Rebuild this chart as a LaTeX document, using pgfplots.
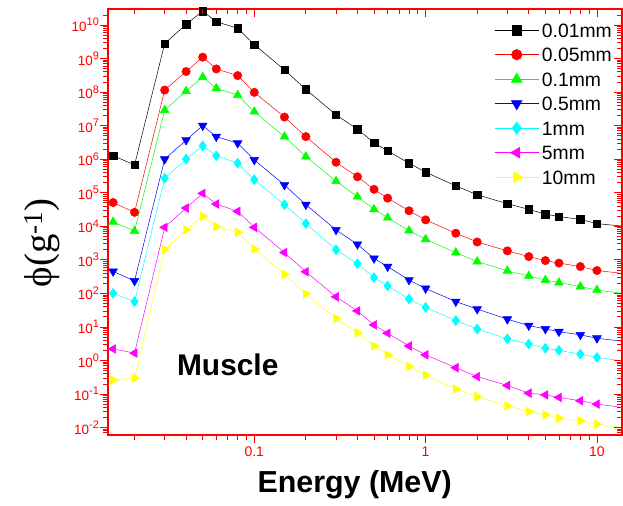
\documentclass[border=0pt]{standalone}
\usepackage{pgfplots}
\pgfplotsset{compat=1.18}
\usepackage{pgfplotstable}
\usepackage{fontspec}
\setmainfont{Liberation Sans}
\newfontfamily\seriffont{Liberation Serif}
\definecolor{cgreen}{RGB}{0,255,0}
\definecolor{ccyan}{RGB}{0,255,255}
\definecolor{cmag}{RGB}{255,0,255}
\definecolor{cyel}{RGB}{255,255,0}
\definecolor{cblue}{RGB}{0,0,255}
\definecolor{cred}{RGB}{255,0,0}

\pgfplotstableread{
E      a       b       c       d       e       f       g
0.015  1.28e6  5.1e4   1.35e4  450     100     2.2     0.26
0.02   6.7e5   2.6e4   7.2e3   235     57      1.66    0.3
0.03   2.8e9   1.15e8  2.9e7   1e6     2.7e5   9.3e3   2e3
0.04   1.05e10 4.1e8   1.07e8  3.7e6   1e6     3.5e4   7.8e3
0.05   2.6e10  1.1e9   2.8e8   1e7     2.5e6   9.6e4   2e4
0.06   1.25e10 4.9e8   1.3e8   4.7e6   1.26e6  4.6e4   9.8e3
0.08   8e9     3.1e8   8.1e7   3e6     7.6e5   2.8e4   6.6e3
0.1    2.6e9   9.8e7   2.6e7   9.5e5   2.45e5  9.3e3   2.1e3
0.15   4.6e8   1.8e7   4.7e6   1.7e5   4.4e4   1.65e3  370
0.2    1.2e8   4.7e6   1.2e6   4.4e4   1.2e4   440     96
0.3    2.1e7   8.1e5   2.2e5   7.8e3   2e3     79      18
0.4    7.8e6   3e5     7.6e4   2.9e3   760     30      6.7
0.5    3.1e6   1.26e5  3.2e4   1.1e3   295     11.5    2.7
0.6    1.76e6  6.9e4   1.8e4   630     166     6.5     1.47
0.8    7.6e5   2.9e4   7.4e3   250     68      2.7     0.66
1      4.1e5   1.55e4  4.1e3   140     38      1.47    0.37
1.5    1.6e5   6.2e3   1.65e3  57      15.5    0.61    0.14
2      8.7e4   3.4e3   890     34      8.7     0.33    0.083
3      4.7e4   1.85e3  470     17      4.4     0.18    0.044
4      3.2e4   1.25e3  330     11      3.1     0.106   0.03
5      2.3e4   950     250     8.7     2.3     0.094   0.024
6      1.95e4  800     210     7.2     2.0     0.079   0.019
8      1.6e4   630     160     5.8     1.55    0.063   0.016
10     1.2e4   480     126     4.6     1.23    0.05    0.0126
15     9.8e3   380     95      3.6     0.93    0.038   0.0096
}\data

\newcommand{\tp}[1]{10\raisebox{0.42em}{\fontsize{11}{12}\selectfont #1}}
\newcommand{\legtxt}[1]{{\fontsize{19.4}{22}\selectfont #1}}
\pgfplotsset{
  myticks/.style={
    minor xtick={0.02,0.03,0.04,0.05,0.06,0.07,0.08,0.09,0.2,0.3,0.4,0.5,0.6,0.7,0.8,0.9,2,3,4,5,6,7,8,9},
    minor ytick={7e-3,8e-3,9e-3,2e-2,3e-2,4e-2,5e-2,6e-2,7e-2,8e-2,9e-2,0.2,0.3,0.4,0.5,0.6,0.7,0.8,0.9,2,3,4,5,6,7,8,9,20,30,40,50,60,70,80,90,200,300,400,500,600,700,800,900,2e3,3e3,4e3,5e3,6e3,7e3,8e3,9e3,2e4,3e4,4e4,5e4,6e4,7e4,8e4,9e4,2e5,3e5,4e5,5e5,6e5,7e5,8e5,9e5,2e6,3e6,4e6,5e6,6e6,7e6,8e6,9e6,2e7,3e7,4e7,5e7,6e7,7e7,8e7,9e7,2e8,3e8,4e8,5e8,6e8,7e8,8e8,9e8,2e9,3e9,4e9,5e9,6e9,7e9,8e9,9e9,2e10},
  }
}

\begin{document}
\begin{tikzpicture}
\begin{axis}[name=ax,
  scale only axis, width=514bp, height=426bp,
  xmode=log, ymode=log,
  xmin=0.014, xmax=14, ymin=6e-3, ymax=3e10,
  xtick={0.1,1,10},
  ytick={1e-2,1e-1,1,1e1,1e2,1e3,1e4,1e5,1e6,1e7,1e8,1e9,1e10},
  myticks,
  tick style={cred, line width=0.8pt},
  major tick length=8bp, minor tick length=5bp,
  axis line style={cred, line width=1.1pt},
  tick align=outside, xtick pos=left, ytick pos=left,
  xticklabels={0.1,1,10},
  yticklabels={\tp{-2},\tp{-1},\tp{0},\tp{1},\tp{2},\tp{3},\tp{4},\tp{5},\tp{6},\tp{7},\tp{8},\tp{9},\tp{10}},
  ticklabel style={text=cred, font=\fontsize{14}{16}\selectfont},
  yticklabel style={font=\fontsize{13.5}{16}\selectfont, inner xsep=1bp},
  xlabel={Energy (MeV)},
  xlabel style={font=\bfseries\fontsize{30.5}{34}\selectfont, at={(axis description cs:0.48,-0.117)}, anchor=center},
  ylabel={{\seriffont ϕ(g\textsuperscript{-1})}},
  ylabel style={font=\fontsize{39}{42}\selectfont, at={(axis description cs:-0.128,0.451)}, anchor=center},
  legend style={at={(axis description cs:1,1)}, anchor=north east, xshift=-7bp, yshift=-12bp,
    draw=none, fill=none, row sep=6.5bp, inner sep=0pt,
    nodes={inner xsep=3bp, inner ysep=2bp, text height=14bp, text depth=0bp}},
  legend cell align=left,
  legend image code/.code={\draw[mark repeat=2,mark phase=2,every mark/.append style={scale=1.25}] plot coordinates {(0bp,0bp)(22bp,0bp)(44bp,0bp)};},
  every axis plot/.append style={line width=0.5pt},
]
\addplot[black, mark=square*, mark size=3.7bp, mark options={solid,fill=black}] table[x=E,y=a]{\data};
\addlegendentry{\legtxt{0.01mm}}
\addplot[cred, mark=*, mark size=4.2bp, mark options={solid,fill=cred}] table[x=E,y=b]{\data};
\addlegendentry{\legtxt{0.05mm}}
\addplot[cgreen, mark=triangle*, mark size=5bp, mark options={solid,fill=cgreen}] table[x=E,y=c]{\data};
\addlegendentry{\legtxt{0.1mm}}
\addplot[cblue, mark=triangle*, mark size=5bp, mark options={solid,fill=cblue,rotate=180}] table[x=E,y=d]{\data};
\addlegendentry{\legtxt{0.5mm}}
\addplot[ccyan, mark=diamond*, mark size=5bp, mark options={solid,fill=ccyan}] table[x=E,y=e]{\data};
\addlegendentry{\legtxt{1mm}}
\addplot[cmag, mark=triangle*, mark size=5bp, mark options={solid,fill=cmag,rotate=90}] table[x=E,y=f]{\data};
\addlegendentry{\legtxt{5mm}}
\addplot[cyel, mark=triangle*, mark size=5bp, mark options={solid,fill=cyel,rotate=-90}] table[x=E,y=g]{\data};
\addlegendentry{\legtxt{10mm}}
\node[font=\bfseries\fontsize{30}{36}\selectfont] at (axis description cs:0.233,0.164) {Muscle};
\end{axis}
\begin{axis}[at={(ax.south west)}, anchor=south west,
  scale only axis, width=514bp, height=426bp,
  xmode=log, ymode=log,
  xmin=0.014, xmax=14, ymin=6e-3, ymax=3e10,
  xtick={0.1,1,10},
  ytick={1e-2,1e-1,1,1e1,1e2,1e3,1e4,1e5,1e6,1e7,1e8,1e9,1e10},
  myticks,
  tick style={cred, line width=0.8pt},
  major tick length=8bp, minor tick length=5bp,
  axis line style={draw=none},
  tick align=inside, xtick pos=right, ytick pos=right,
  xticklabels={}, yticklabels={},
]
\end{axis}
\pgfresetboundingbox
\path[use as bounding box] ([xshift=-108bp,yshift=-71bp]ax.south west) rectangle ([xshift=1bp,yshift=9bp]ax.north east);
\end{tikzpicture}
\end{document}
